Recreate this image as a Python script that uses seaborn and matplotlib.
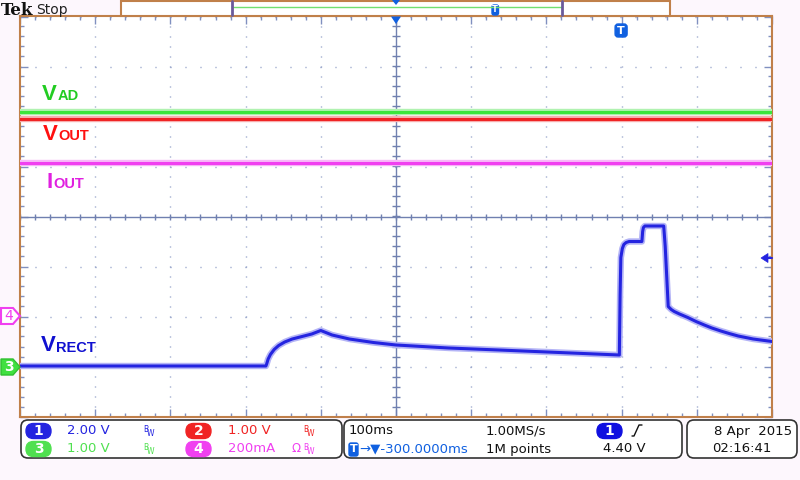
import numpy as np
import pandas as pd
import seaborn as sns
import matplotlib.pyplot as plt
from matplotlib.patches import FancyBboxPatch, Rectangle, Polygon
from matplotlib.lines import Line2D
from matplotlib.transforms import IdentityTransform

# tempo in ms (0 = trigger), ampiezze in divisioni verticali
t_piatto = [-800, 200]
v_ad = [2.09, 2.09]
v_out = [1.95, 1.95]
i_out = [1.07, 1.07]

t_rect = [-800, -473, -472, -470, -467, -462, -456, -448, -438, -425, -412, -400, -385, -362, -330, -300,
          -230, -163, -83, -3, -2, -1, 1, 3, 6, 10, 27, 28, 29, 31, 56, 58, 60, 62, 66, 70, 77, 88, 99, 110,
          120, 132, 143, 155, 165, 175, 185, 200]
v_rect = [-2.99, -2.99, -2.95, -2.85, -2.76, -2.66, -2.58, -2.51, -2.45, -2.40, -2.35, -2.28, -2.37, -2.45,
          -2.52, -2.57, -2.63, -2.67, -2.72, -2.77, -1.57, -0.82, -0.64, -0.56, -0.52, -0.50, -0.50, -0.30,
          -0.22, -0.19, -0.19, -0.60, -1.20, -1.80, -1.86, -1.90, -1.95, -2.02, -2.10, -2.17, -2.23, -2.29,
          -2.34, -2.39, -2.42, -2.45, -2.47, -2.50]

# livelli di riferimento (divisioni)
gnd_ch3 = -3.01
gnd_ch4 = -1.99
livello_trigger = -0.83
centro_ms = -300

# testi della barra di stato
scale_canali = ['2.00 V', '1.00 V', '1.00 V', '200mA']
base_tempi = ['100ms', '-300.0000ms']
campionamento = ['1.00MS/s', '1M points']
trigger_txt = '4.40 V'
data_ora = ['8 Apr  2015', '02:16:41']

C_BLU, C_ROSSO, C_VERDE, C_MAG = '#2424e0', '#f02424', '#3ce63c', '#f040f0'
C_GRIGLIA = '#8090c0'
C_BORDO = '#c0804a'
C_ICONA = '#1060e0'

sns.set_theme(style='white')
plt.rcParams['font.family'] = ['DejaVu Sans']

W, H = 800, 480
fig = plt.figure(figsize=(8, 4.8), dpi=100, facecolor='#fdf7fd')
PX = IdentityTransform()

def yp(y):
    # y immagine (dall'alto) -> y display
    return H - y

ax = fig.add_axes([20 / W, (H - 416.5) / H, 752 / W, 400 / H])
ax.set_facecolor('white')
ax.set_xlim(-800, 200)
ax.set_ylim(-4, 4)

# griglia a puntini
ax.set_xticks(np.arange(-800, 201, 100))
ax.set_yticks(np.arange(-4, 5, 1))
ax.set_xticks(np.arange(-800, 201, 20), minor=True)
ax.set_yticks(np.arange(-4, 4.01, 0.2), minor=True)
ax.set_xticklabels([])
ax.set_yticklabels([])
ax.xaxis.grid(True, color=C_GRIGLIA, linestyle=(0, (0.72, 6.48)), lw=1)
ax.yaxis.grid(True, color=C_GRIGLIA, linestyle=(0, (0.72, 10.08)), lw=1)
ax.tick_params(which='both', direction='in', color=C_GRIGLIA, top=True, right=True, bottom=True, left=True)
ax.tick_params(which='major', length=6, width=1)
ax.tick_params(which='minor', length=3, width=1)
for s in ax.spines.values():
    s.set_color(C_BORDO)
    s.set_linewidth(1.5)

# assi centrali con tacche
ax.axhline(0, color='#7080b0', lw=1, zorder=1)
ax.axvline(centro_ms, color='#7080b0', lw=1, zorder=1)
mx = np.arange(-800, 201, 20)
my = np.arange(-4, 4.01, 0.2)
ax.plot(mx, np.zeros_like(mx), ls='', marker='|', ms=4.5, mew=1, color='#7080b0', zorder=1)
ax.plot(np.full_like(my, centro_ms), my, ls='', marker='_', ms=5.5, mew=1, color='#7080b0', zorder=1)

# tracce
tracce = [
    (t_piatto, v_ad, C_VERDE, '#b0f2b0'),
    (t_piatto, v_out, C_ROSSO, '#f8b0b0'),
    (t_piatto, i_out, C_MAG, '#f8b8f8'),
    (t_rect, v_rect, C_BLU, '#b4b4f6'),
]
for tt, vv, col, alone in tracce:
    df = pd.DataFrame({'t': tt, 'v': vv})
    sns.lineplot(data=df, x='t', y='v', ax=ax, color=alone, lw=4.6, estimator=None, sort=False, legend=False, zorder=3)
    sns.lineplot(data=df, x='t', y='v', ax=ax, color=col, lw=2.2, estimator=None, sort=False, legend=False, zorder=4)
ax.set_xlabel('')
ax.set_ylabel('')

renderer = fig.canvas.get_renderer()

def etichetta(x, y, grande, piccolo, col):
    t = fig.text(x, yp(y), grande, transform=PX, color=col, fontsize=16, fontweight='bold',
                 family='Liberation Sans', va='baseline')
    bb = t.get_window_extent(renderer)
    fig.text(bb.x1 + 0.5, yp(y + 0.5), piccolo, transform=PX, color=col, fontsize=10.5,
             fontweight='bold', family='Liberation Sans', va='baseline')

etichetta(42, 99.5, 'V', 'AD', '#22cc22')
etichetta(43, 139.5, 'V', 'OUT', '#ff1010')
etichetta(47, 188, 'I', 'OUT', '#e020e0')
etichetta(41, 351, 'V', 'RECT', '#1010d0')

def y_dati(v):
    return H - ax.transData.transform((0, v))[1]

# marcatori canali a sinistra
y4 = y_dati(gnd_ch4)
fig.patches.append(Polygon([(1, yp(y4 - 8)), (13, yp(y4 - 8)), (20, yp(y4)), (13, yp(y4 + 8)), (1, yp(y4 + 8))],
                           closed=True, fc='white', ec=C_MAG, lw=1.5, transform=PX))
fig.text(8.5, yp(y4), '4', transform=PX, color=C_MAG, fontsize=10, ha='center', va='center')
y3 = y_dati(gnd_ch3)
fig.patches.append(Polygon([(1, yp(y3 - 8)), (13, yp(y3 - 8)), (20, yp(y3)), (13, yp(y3 + 8)), (1, yp(y3 + 8))],
                           closed=True, fc='#40e040', ec='#30c030', lw=1, transform=PX))
fig.text(8.5, yp(y3), '3', transform=PX, color='white', fontsize=10, fontweight='bold', ha='center', va='center')

# livello di trigger a destra
yt = y_dati(livello_trigger)
fig.patches.append(Polygon([(761, yp(yt)), (768, yp(yt - 4.5)), (768, yp(yt + 4.5))], closed=True,
                           fc=C_BLU, ec=C_BLU, lw=0.5, transform=PX))
fig.lines.append(Line2D([767, 772], [yp(yt), yp(yt)], color=C_BLU, lw=1.5, transform=PX))

# barra di registrazione in alto
fig.patches.append(Rectangle((121, yp(15.5)), 549, 15, fc='white', ec=C_BORDO, lw=1.5, transform=PX))
fig.lines.append(Line2D([232, 562], [yp(7), yp(7)], color='#70e070', lw=1, transform=PX))
for xb in (232, 561.5):
    fig.lines.append(Line2D([xb, xb], [yp(1), yp(15)], color='#6a5a9a', lw=2, transform=PX))
fig.patches.append(FancyBboxPatch((492, yp(15)), 6.5, 10, boxstyle='round,pad=0,rounding_size=2',
                                  fc=C_ICONA, ec=C_ICONA, transform=PX))
fig.text(495.2, yp(10), 'T', transform=PX, color='white', fontsize=6, fontweight='bold', ha='center', va='center')
xc = ax.transData.transform((centro_ms, 0))[0]
fig.patches.append(Polygon([(xc - 4, yp(0)), (xc + 4, yp(0)), (xc, yp(5))], closed=True, fc=C_ICONA, ec='none', transform=PX))
fig.patches.append(Polygon([(xc - 5, yp(16.5)), (xc + 5, yp(16.5)), (xc, yp(24))], closed=True, fc=C_ICONA, ec='none', transform=PX))

# icona T sulla posizione del trigger
xtr = ax.transData.transform((0, 0))[0]
fig.patches.append(FancyBboxPatch((xtr - 6.5, yp(37)), 12, 13, boxstyle='round,pad=0,rounding_size=3',
                                  fc=C_ICONA, ec=C_ICONA, transform=PX))
fig.text(xtr - 0.5, yp(30.5), 'T', transform=PX, color='white', fontsize=8, fontweight='bold', ha='center', va='center')

# Tek Stop
fig.text(1, yp(15), 'Tek', transform=PX, fontsize=12, fontweight='bold', family='DejaVu Serif', color='#111111', va='baseline')
fig.text(36, yp(14), 'Stop', transform=PX, fontsize=10, color='#222222', va='baseline')

# riquadri di stato
for x0, x1 in [(21, 342), (344, 682), (687, 797)]:
    fig.patches.append(FancyBboxPatch((x0, yp(458)), x1 - x0, 38, boxstyle='round,pad=0,rounding_size=7',
                                      fc='white', ec='#333333', lw=1.2, transform=PX))

R1, R2 = 431, 449

def pillola(xc, yc, num, col):
    fig.patches.append(FancyBboxPatch((xc - 12.5, yp(yc + 7.5)), 25, 15, boxstyle='round,pad=0,rounding_size=7.5',
                                      fc=col, ec=col, transform=PX))
    fig.text(xc, yp(yc), num, transform=PX, color='white', fontsize=10, fontweight='bold', ha='center', va='center')

def bw(x, yc, col):
    fig.text(x, yp(yc - 2), 'B', transform=PX, color=col, fontsize=5.5, va='center')
    fig.text(x + 4, yp(yc + 2), 'W', transform=PX, color=col, fontsize=5.5, va='center')

cols_can = [C_BLU, C_ROSSO, '#50e050', C_MAG]
pos_can = [(38.5, R1, 67, 143), (198.5, R1, 228, 303), (38.5, R2, 67, 143), (198.5, R2, 228, 303)]
for i, (xp, yr, xt, xb) in enumerate(pos_can):
    pillola(xp, yr, str(i + 1), cols_can[i])
    fig.text(xt, yp(yr), scale_canali[i], transform=PX, color=cols_can[i], fontsize=9.5, va='center')
    bw(xb, yr, cols_can[i])
fig.text(292, yp(R2), 'Ω', transform=PX, color=C_MAG, fontsize=8.5, va='center')

# base dei tempi
fig.text(349, yp(R1), base_tempi[0], transform=PX, color='#111111', fontsize=9.5, va='center')
fig.patches.append(FancyBboxPatch((349, yp(R2 + 7)), 9, 13, boxstyle='round,pad=0,rounding_size=2',
                                  fc=C_ICONA, ec=C_ICONA, transform=PX))
fig.text(353.5, yp(R2), 'T', transform=PX, color='white', fontsize=8, fontweight='bold', ha='center', va='center')
fig.text(359, yp(R2), '→▼' + base_tempi[1], transform=PX, color=C_ICONA, fontsize=9.5, va='center')
fig.text(486, yp(R1), campionamento[0], transform=PX, color='#111111', fontsize=9.5, va='center')
fig.text(486, yp(R2), campionamento[1], transform=PX, color='#111111', fontsize=9.5, va='center')
pillola(609.5, R1, '1', '#1010e0')
fig.lines.append(Line2D([632, 634, 639, 642], [yp(436), yp(436), yp(425), yp(425)], color='#111111', lw=1, transform=PX))
fig.text(603, yp(R2), trigger_txt, transform=PX, color='#111111', fontsize=9.5, va='center')
fig.text(792, yp(R1), data_ora[0], transform=PX, color='#111111', fontsize=9.5, ha='right', va='center')
fig.text(712, yp(R2), data_ora[1], transform=PX, color='#111111', fontsize=9.5, va='center')

fig.savefig('out.png', dpi=100, facecolor=fig.get_facecolor())
